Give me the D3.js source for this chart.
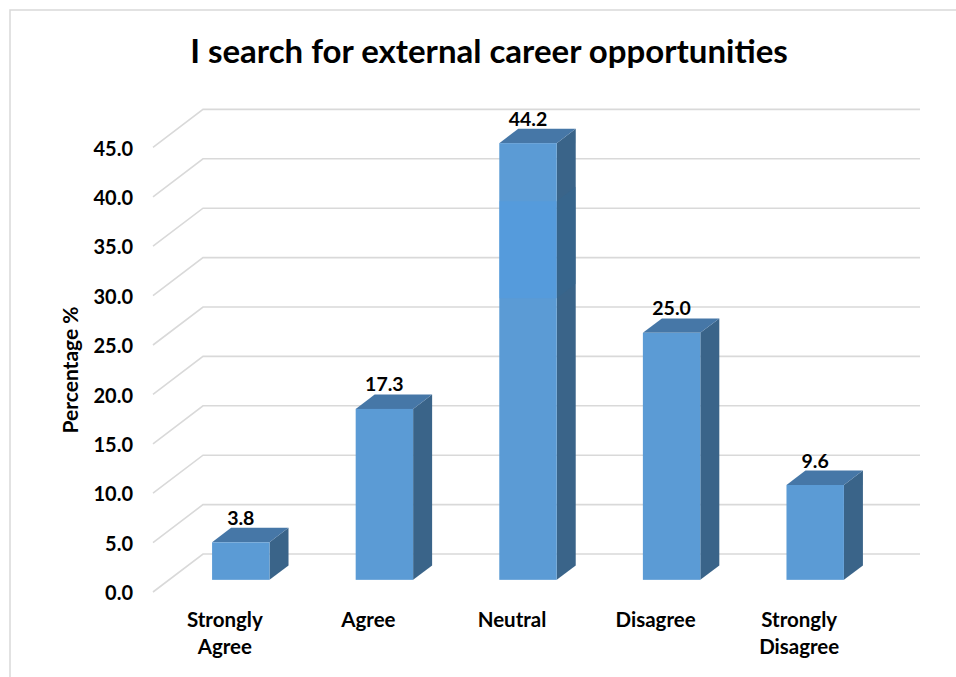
<!DOCTYPE html>
<html>
<head>
<meta charset="utf-8">
<script src="https://cdn.jsdelivr.net/npm/d3@7/dist/d3.min.js"></script>
<style>
  html, body { margin: 0; padding: 0; background: #ffffff; }
  svg { display: block; }
  text { font-family: Lato, "Open Sans", sans-serif; font-weight: 700; fill: #000; }
</style>
</head>
<body>
<svg id="chart" width="956" height="677"></svg>
<script>
// Survey responses (percentage of respondents)
const categories = ["Strongly Agree", "Agree", "Neutral", "Disagree", "Strongly Disagree"];
const values = [3.8, 17.3, 44.2, 25.0, 9.6];
const yTicks = [0, 5, 10, 15, 20, 25, 30, 35, 40, 45];
const titleText = "I search for external career opportunities";
const yAxisTitle = "Percentage %";

const svg = d3.select("#chart");

// outer chart frame (extends past the right/bottom edge of the page)
svg.append("rect")
  .attr("x", 10).attr("y", 10)
  .attr("width", 980).attr("height", 700)
  .attr("fill", "none")
  .attr("stroke", "#d9d9d9")
  .attr("stroke-width", 1.5);

// oblique 3-D projection: depth d shifts a point right by d and up by d*slope
const slope = 0.76;
const wallDepth = 50;
const barFront = 16;
const barDepth = 19;

const x = d3.scaleBand().domain(categories).range([153, 871]);
const y = d3.scaleLinear().domain([0, 45]).range([592, 147.4]);
const barW = x.bandwidth() * 0.4;

const proj = (px, py, d) => [px + d, py - d * slope];

// gridlines: a diagonal on the side wall, then across the back wall
const grid = svg.append("g");
yTicks.forEach(t => {
  const p0 = [x.range()[0], y(t)];
  const p1 = proj(p0[0], p0[1], wallDepth);
  const p2 = [920, p1[1]];
  grid.append("polyline")
    .attr("points", [p0, p1, p2].map(p => p.join(",")).join(" "))
    .attr("fill", "none")
    .attr("stroke", "#d9d9d9")
    .attr("stroke-width", 1.6);
});

// y tick labels
svg.append("g").selectAll("text")
  .data(yTicks).join("text")
  .attr("x", 133)
  .attr("y", d => y(d) + 1)
  .attr("dy", "0.36em")
  .attr("text-anchor", "end")
  .attr("font-size", 20)
  .text(d => d.toFixed(1));

// y axis title
svg.append("text")
  .attr("transform", "translate(78,370) rotate(-90)")
  .attr("text-anchor", "middle")
  .attr("font-size", 21)
  .text(yAxisTitle);

// bars
const bars = svg.append("g");
categories.forEach((c, i) => {
  const v = values[i];
  const cx = x(c) + x.bandwidth() / 2;
  const [fx0, fyb] = proj(cx - barW / 2, y(0), barFront);
  const fx1 = fx0 + barW;
  const fyt = y(v) - barFront * slope;
  const dx = barDepth, dy = -barDepth * slope;

  // side face
  bars.append("path")
    .attr("d", `M${fx1},${fyt}L${fx1 + dx},${fyt + dy}L${fx1 + dx},${fyb + dy}L${fx1},${fyb}Z`)
    .attr("fill", "#3a6489");
  // top face
  bars.append("path")
    .attr("d", `M${fx0},${fyt}L${fx0 + dx},${fyt + dy}L${fx1 + dx},${fyt + dy}L${fx1},${fyt}Z`)
    .attr("fill", "#4677a7");
  // front face
  bars.append("rect")
    .attr("x", fx0).attr("y", fyt)
    .attr("width", barW).attr("height", fyb - fyt)
    .attr("fill", "#5b9bd5");

  // highlight band on the tallest bar
  if (v === d3.max(values)) {
    const hTop = fyt + (fyb - fyt) * 0.133;
    const hBot = fyt + (fyb - fyt) * 0.355;
    bars.append("rect")
      .attr("x", fx0).attr("y", hTop)
      .attr("width", barW).attr("height", hBot - hTop)
      .attr("fill", "#4d9be4").attr("opacity", 0.45);
    bars.append("path")
      .attr("d", `M${fx1},${hTop}L${fx1 + dx},${hTop + dy}L${fx1 + dx},${hBot + dy}L${fx1},${hBot}Z`)
      .attr("fill", "#33668f").attr("opacity", 0.5);
  }

  // value label
  svg.append("text")
    .attr("x", fx0 + barW / 2)
    .attr("y", fyt + dy - 3)
    .attr("text-anchor", "middle")
    .attr("font-size", 19.5)
    .text(v.toFixed(1));
});

// category labels (wrapped onto two lines)
const catG = svg.append("g");
categories.forEach(c => {
  const words = c.split(" ");
  const t = catG.append("text")
    .attr("x", x(c) + x.bandwidth() / 2)
    .attr("y", 627)
    .attr("text-anchor", "middle")
    .attr("font-size", 20.5);
  words.forEach((w, k) => {
    t.append("tspan")
      .attr("x", x(c) + x.bandwidth() / 2)
      .attr("dy", k === 0 ? 0 : 27)
      .text(w);
  });
});

// chart title
svg.append("text")
  .attr("x", 489)
  .attr("y", 63)
  .attr("text-anchor", "middle")
  .attr("font-size", 33)
  .text(titleText);
</script>
</body>
</html>
